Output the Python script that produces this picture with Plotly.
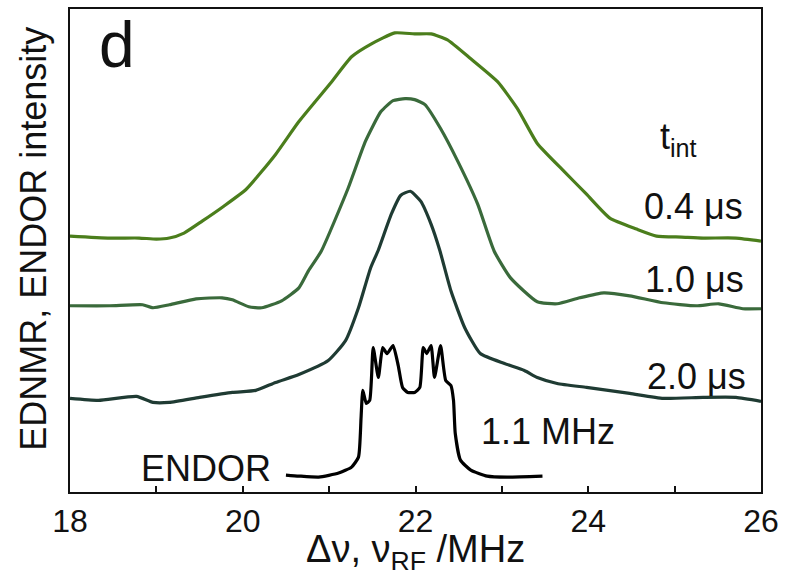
import plotly.graph_objects as go

# ---- data (x in MHz, y in arbitrary intensity units incl. vertical offsets) ----
x_04 = [18.0, 18.46, 18.8, 19.0, 19.15, 19.32, 19.53, 19.78, 20.04, 20.38, 20.65, 21.03, 21.26, 21.49,
        21.76, 21.99, 22.18, 22.37, 22.64, 22.95, 23.18, 23.41, 23.72, 23.98, 24.25, 24.56, 24.79,
        25.08, 25.33, 25.71, 26.0]
y_04 = [257, 255, 255, 254, 255, 260, 272, 287, 304, 339, 372, 412, 437, 450,
        461, 460, 460, 454, 435, 412, 385, 350, 322, 299, 275, 264, 257,
        256, 255, 255, 252]

x_10 = [18.0, 18.46, 18.84, 18.96, 19.15, 19.46, 19.76, 19.88, 20.07, 20.22, 20.45, 20.65, 20.76,
        20.91, 21.22, 21.42, 21.6, 21.74, 21.88, 21.99, 22.11, 22.29, 22.49, 22.72, 22.91, 23.1,
        23.41, 23.64, 23.9, 24.18, 24.48, 24.87, 25.25, 25.51, 25.79, 26.0]
y_10 = [187, 187, 188, 185, 188, 194, 195, 193, 186, 185, 192, 205, 222,
        242, 305, 352, 382, 393, 395, 394, 389, 365, 332, 289, 242, 215,
        191, 189, 195, 200, 197, 190, 187, 189, 184, 184]

x_20 = [18.0, 18.33, 18.77, 18.96, 19.15, 19.5, 19.88, 20.15, 20.38, 20.65, 20.99, 21.19, 21.34,
        21.48, 21.57, 21.72, 21.83, 21.94, 22.06, 22.18, 22.28, 22.41, 22.57, 22.75, 23.03, 23.26,
        23.41, 23.64, 23.98, 24.48, 24.87, 25.33, 25.71, 26.0]
y_20 = [94, 92, 96, 90, 90, 95, 100, 102, 110, 118, 132, 152, 185,
        225, 243, 279, 298, 302, 292, 269, 243, 202, 165, 139, 129, 122,
        115, 109, 105, 99, 94, 95, 95, 91]

x_endor = [20.5, 20.65, 20.88, 21.11, 21.26, 21.34, 21.37, 21.39, 21.43, 21.47, 21.51, 21.57, 21.62,
           21.67, 21.74, 21.8, 21.85, 21.91, 21.99, 22.05, 22.09, 22.13, 22.18, 22.22, 22.29, 22.35,
           22.41, 22.44, 22.46, 22.52, 22.64, 22.83, 23.06, 23.47]
y_endor = [17, 16, 15, 19, 25, 35, 75, 102, 89, 92, 145, 115, 145,
           139, 147, 127, 105, 100, 100, 105, 145, 139, 147, 115, 147, 112,
           107, 92, 59, 32, 22, 16, 15, 16]

series_names = ["0.4 μs", "1.0 μs", "2.0 μs", "ENDOR"]
series_colors = ["#4b7e1c", "#3a6a3b", "#1f3b33", "#000000"]

x_ticks = [18, 20, 22, 24, 26]

FONT = "Liberation Sans, Arial, Helvetica, sans-serif"

fig = go.Figure()
for xs, ys, name, col in zip([x_04, x_10, x_20, x_endor], [y_04, y_10, y_20, y_endor],
                             series_names, series_colors):
    fig.add_trace(go.Scatter(x=xs, y=ys, mode="lines", name=name,
                             line=dict(color=col, width=3.2, shape="spline", smoothing=0.5)))

labels = [
    ("d", 18.54, 449, 64),
    ("t<sub>int</sub>", 25.05, 354, 36),
    ("0.4 μs", 25.22, 287, 36),
    ("1.0 μs", 25.23, 213, 36),
    ("2.0 μs", 25.25, 116, 36),
    ("1.1 MHz", 23.53, 61, 36),
    ("ENDOR", 19.57, 24, 36),
]
for txt, xx, yy, fs in labels:
    fig.add_annotation(x=xx, y=yy, text=txt, showarrow=False, xanchor="center", yanchor="middle",
                       font=dict(family=FONT, size=fs, color="#111111"))

fig.add_annotation(xref="paper", yref="paper", x=-0.053, y=0.525, text="EDNMR, ENDOR intensity",
                   textangle=-90, showarrow=False, xanchor="center", yanchor="middle",
                   font=dict(family=FONT, size=36, color="#111111"))

fig.add_annotation(xref="paper", yref="paper", x=0.5, y=-0.125, text="Δν, ν<sub>RF</sub> /MHz",
                   showarrow=False, xanchor="center", yanchor="middle",
                   font=dict(family=FONT, size=38, color="#111111"))

fig.update_layout(
    width=786, height=582,
    margin=dict(l=70, r=21, t=7, b=90),
    paper_bgcolor="white", plot_bgcolor="white",
    showlegend=False,
    xaxis=dict(range=[18, 26], tickvals=x_ticks, ticks="inside", ticklen=6, tickwidth=2,
               tickcolor="#111111",
               minor=dict(dtick=1, tick0=18, ticks="inside", ticklen=6, tickwidth=2, tickcolor="#111111"),
               showline=True, linecolor="#111111", linewidth=2, mirror=True, showgrid=False,
               zeroline=False,
               tickfont=dict(family=FONT, size=32, color="#111111")),
    yaxis=dict(range=[0, 485], showticklabels=False, ticks="", showline=True, linecolor="#111111",
               linewidth=2, mirror=True, showgrid=False, zeroline=False),
)

fig.write_html("out.html")
